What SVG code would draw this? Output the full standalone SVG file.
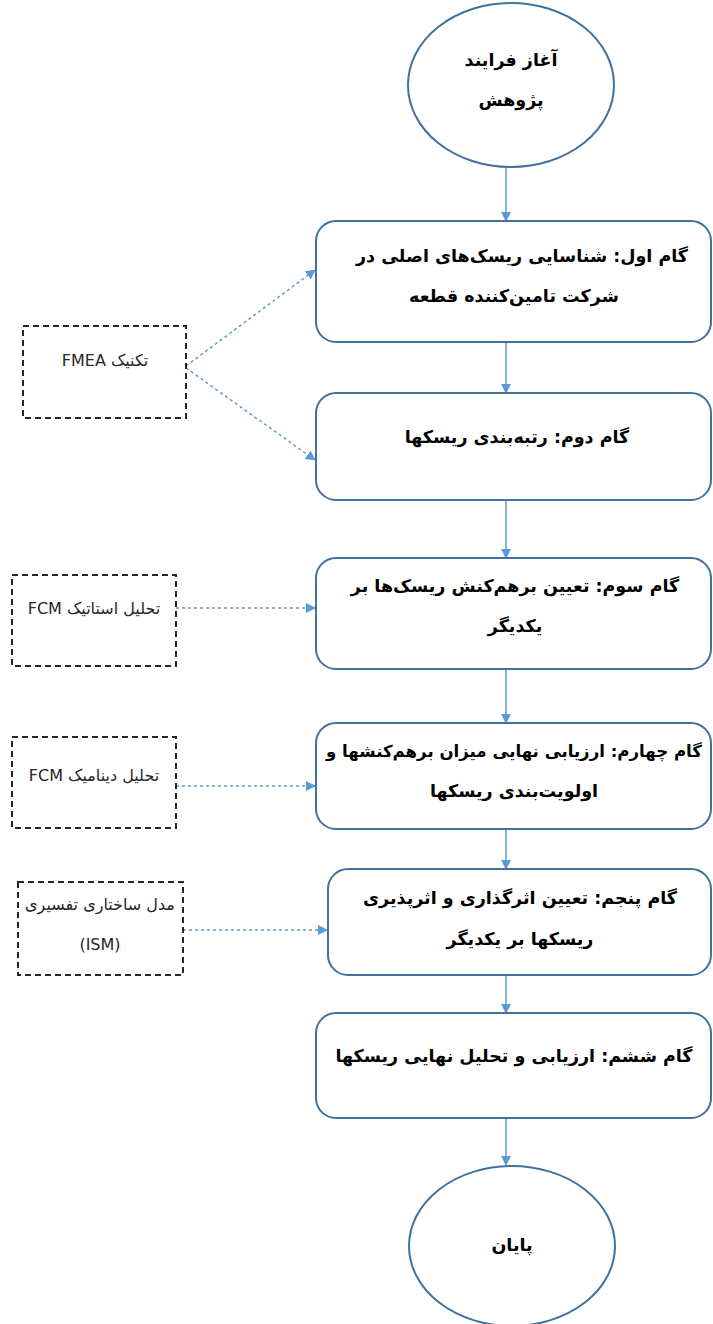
<svg xmlns="http://www.w3.org/2000/svg" width="713" height="1324" viewBox="0 0 713 1324">
<style>
.step{fill:#fff;stroke:#41719C;stroke-width:2}
.side{fill:#fff;stroke:#262626;stroke-width:2;stroke-dasharray:6 4}
.t{font-family:"DejaVu Sans",sans-serif;font-weight:bold;font-size:17.5px;fill:#000;text-anchor:middle;direction:rtl}
.s{font-family:"DejaVu Sans",sans-serif;font-size:16px;fill:#262626;text-anchor:middle;direction:rtl}
.flow{stroke:#5B9BD5;stroke-width:1.5;fill:none;marker-end:url(#ah)}
.dot{stroke:#5B9BD5;stroke-width:1.5;fill:none;stroke-dasharray:3 3;marker-end:url(#ah)}
</style>
<defs>
<marker id="ah" viewBox="0 0 10 10" refX="9" refY="5" markerWidth="10" markerHeight="10" markerUnits="userSpaceOnUse" orient="auto">
<path d="M0,0 L10,5 L0,10 z" fill="#5B9BD5"/>
</marker>
</defs>
<rect width="713" height="1324" fill="#fff"/>
<g id="connectors">
<line class="flow" x1="506" y1="168" x2="506" y2="221"/>
<line class="flow" x1="506" y1="342" x2="506" y2="393"/>
<line class="flow" x1="506" y1="500" x2="506" y2="558"/>
<line class="flow" x1="506" y1="669" x2="506" y2="723"/>
<line class="flow" x1="506" y1="829" x2="506" y2="869"/>
<line class="flow" x1="506" y1="975" x2="506" y2="1013"/>
<line class="flow" x1="506" y1="1118" x2="506" y2="1165"/>
<line class="dot" x1="186" y1="366" x2="315" y2="270"/>
<line class="dot" x1="186" y1="368" x2="315" y2="460"/>
<line class="dot" x1="176" y1="608" x2="315" y2="608"/>
<line class="dot" x1="176" y1="786" x2="315" y2="786"/>
<line class="dot" x1="183" y1="930" x2="327" y2="930"/>
</g>
<g id="start">
<ellipse class="step" cx="511" cy="85" rx="103" ry="82"/>
<text class="t" x="511" y="66">آغاز فرایند</text>
<text class="t" x="511" y="106">پژوهش</text>
</g>
<g id="step1">
<rect class="step" x="316" y="221" width="395" height="121" rx="20"/>
<text class="t" x="522" y="262">گام اول: شناسایی ریسک‌های اصلی در</text>
<text class="t" x="514" y="302">شرکت تامین‌کننده قطعه</text>
</g>
<g id="step2">
<rect class="step" x="316" y="393" width="395" height="107" rx="20"/>
<text class="t" x="517" y="443">گام دوم: رتبه‌بندی ریسکها</text>
</g>
<g id="step3">
<rect class="step" x="316" y="558" width="395" height="111" rx="20"/>
<text class="t" x="515" y="592">گام سوم: تعیین برهم‌کنش ریسک‌ها بر</text>
<text class="t" x="515" y="632">یکدیگر</text>
</g>
<g id="step4">
<rect class="step" x="316" y="723" width="395" height="106" rx="20"/>
<text class="t" x="514" y="757" style="font-size:16.6px">گام چهارم: ارزیابی نهایی میزان برهم‌کنشها و</text>
<text class="t" x="514" y="797">اولویت‌بندی ریسکها</text>
</g>
<g id="step5">
<rect class="step" x="328" y="869" width="383" height="106" rx="20"/>
<text class="t" x="520" y="904">گام پنجم: تعیین اثرگذاری و اثرپذیری</text>
<text class="t" x="520" y="945">ریسکها بر یکدیگر</text>
</g>
<g id="step6">
<rect class="step" x="316" y="1013" width="395" height="105" rx="20"/>
<text class="t" x="514" y="1062">گام ششم: ارزیابی و تحلیل نهایی ریسکها</text>
</g>
<g id="end">
<ellipse class="step" cx="512" cy="1246" rx="103" ry="80"/>
<text class="t" x="512" y="1251">پایان</text>
</g>
<g id="fmea">
<rect class="side" x="23" y="326" width="163" height="92"/>
<text class="s" x="105" y="366">تکنیک FMEA</text>
</g>
<g id="fcm-static">
<rect class="side" x="12" y="575" width="164" height="91"/>
<text class="s" x="94" y="614">تحلیل استاتیک FCM</text>
</g>
<g id="fcm-dynamic">
<rect class="side" x="12" y="737" width="164" height="91"/>
<text class="s" x="94" y="781">تحلیل دینامیک FCM</text>
</g>
<g id="ism">
<rect class="side" x="18" y="882" width="165" height="93"/>
<text class="s" x="100" y="910">مدل ساختاری تفسیری</text>
<text class="s" x="100" y="950" style="direction:ltr">(ISM)</text>
</g>
</svg>
